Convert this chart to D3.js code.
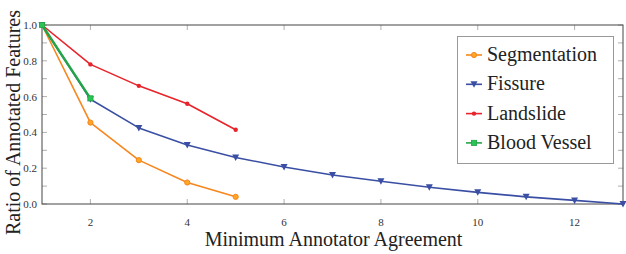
<!DOCTYPE html>
<html>
<head>
<meta charset="utf-8">
<script src="https://cdn.jsdelivr.net/npm/d3@7"></script>
</head>
<body style="margin:0">
<script>
// Ratio of annotated features vs. minimum annotator agreement
const segmentation = [1.0, 0.455, 0.245, 0.12, 0.04];
const fissure = [1.0, 0.585, 0.425, 0.33, 0.26, 0.207, 0.162, 0.127, 0.094, 0.065, 0.04, 0.02, 0.0];
const landslide = [1.0, 0.78, 0.66, 0.56, 0.415];
const bloodVessel = [1.0, 0.59];

const seriesNames = ['Segmentation', 'Fissure', 'Landslide', 'Blood Vessel'];
const seriesColors = ['#f7861e', '#3a4fa3', '#e8232a', '#23a447'];
const seriesMarkers = ['circle', 'triangle', 'dot', 'square'];
const xTicks = [2, 4, 6, 8, 10, 12];
const yTicks = [0, 0.2, 0.4, 0.6, 0.8, 1.0];
const yMinor = d3.range(0, 11).map(i => i / 10);

const W = 626, H = 254;
const margin = { top: 25, right: 3, bottom: 50, left: 42 };
const FONT = '"Liberation Serif"';

const svg = d3.select('body').append('svg')
  .attr('width', W).attr('height', H);

const x = d3.scaleLinear().domain([1, 13]).range([margin.left, W - margin.right]);
const y = d3.scaleLinear().domain([0, 1]).range([H - margin.bottom, margin.top]);

// tick marks (inside, grey)
const ticks = svg.append('g').attr('stroke', '#b0b0b0').attr('stroke-width', 1);
xTicks.forEach(t => {
  ticks.append('line').attr('x1', x(t)).attr('x2', x(t)).attr('y1', y(0)).attr('y2', y(0) - 5);
  ticks.append('line').attr('x1', x(t)).attr('x2', x(t)).attr('y1', y(1)).attr('y2', y(1) + 5);
});
yMinor.forEach(t => {
  ticks.append('line').attr('x1', x(1)).attr('x2', x(1) + 5).attr('y1', y(t)).attr('y2', y(t));
  ticks.append('line').attr('x1', x(13)).attr('x2', x(13) - 5).attr('y1', y(t)).attr('y2', y(t));
});

// frame
svg.append('rect')
  .attr('x', x(1)).attr('y', y(1))
  .attr('width', x(13) - x(1)).attr('height', y(0) - y(1))
  .attr('fill', 'none').attr('stroke', '#444').attr('stroke-width', 1);

// tick labels
svg.append('g').selectAll('text').data(xTicks).join('text')
  .attr('x', d => x(d)).attr('y', y(0) + 22)
  .attr('text-anchor', 'middle')
  .style('font-family', FONT).style('font-size', '11px').attr('fill', '#333')
  .text(d => d);

svg.append('g').selectAll('text').data(yTicks).join('text')
  .attr('x', x(1) - 5).attr('y', d => y(d) + 4)
  .attr('text-anchor', 'end')
  .style('font-family', FONT).style('font-size', '11px').attr('fill', '#333')
  .text(d => d3.format('.1f')(d));

// axis titles
svg.append('text')
  .attr('x', (x(1) + x(13)) / 2 + 1).attr('y', 246)
  .attr('text-anchor', 'middle')
  .style('font-family', FONT).style('font-size', '20px').attr('fill', '#222')
  .text('Minimum Annotator Agreement');

svg.append('text')
  .attr('transform', `translate(20,${(y(0) + y(1)) / 2 + 8}) rotate(-90)`)
  .attr('text-anchor', 'middle')
  .style('font-family', FONT).style('font-size', '20px').attr('fill', '#222')
  .text('Ratio of Annotated Features');

function drawMarker(g, type, color, cx, cy) {
  if (type === 'circle') {
    g.append('circle').attr('cx', cx).attr('cy', cy).attr('r', 2.6)
      .attr('fill', d3.color(color).brighter(0.6)).attr('stroke', color).attr('stroke-width', 1);
  } else if (type === 'dot') {
    g.append('circle').attr('cx', cx).attr('cy', cy).attr('r', 2.2).attr('fill', color);
  } else if (type === 'square') {
    g.append('rect').attr('x', cx - 2.6).attr('y', cy - 2.6).attr('width', 5.2).attr('height', 5.2)
      .attr('fill', d3.color(color).brighter(0.5)).attr('stroke', color).attr('stroke-width', 0.8);
  } else {
    g.append('path')
      .attr('d', `M${cx - 3.5},${cy - 3} L${cx + 3.5},${cy - 3} L${cx},${cy + 3.5} Z`)
      .attr('fill', color);
  }
}

const allSeries = [segmentation, fissure, landslide, bloodVessel];
const line = d3.line().x((d, i) => x(i + 1)).y(d => y(d));
const plot = svg.append('g');

allSeries.forEach((vals, k) => {
  const color = seriesColors[k];
  plot.append('path').datum(vals)
    .attr('d', line)
    .attr('fill', 'none').attr('stroke', color)
    .attr('stroke-width', k === 3 ? 2.4 : 1.6)
    .attr('stroke-linejoin', 'round');
  const mg = plot.append('g');
  vals.forEach((v, i) => drawMarker(mg, seriesMarkers[k], color, x(i + 1), y(v)));
});

// legend
const lg = svg.append('g');
lg.append('rect')
  .attr('x', 457.5).attr('y', 36.5).attr('width', 156).attr('height', 127)
  .attr('fill', '#fff').attr('stroke', '#999').attr('stroke-width', 1);
seriesNames.forEach((name, k) => {
  const cy = 55 + k * 29.3;
  lg.append('line').attr('x1', 466).attr('x2', 482).attr('y1', cy).attr('y2', cy)
    .attr('stroke', seriesColors[k]).attr('stroke-width', 1.6);
  drawMarker(lg, seriesMarkers[k], seriesColors[k], 474, cy);
  lg.append('text')
    .attr('x', 487).attr('y', cy + 6)
    .style('font-family', FONT).style('font-size', '20px').attr('fill', '#222')
    .text(name);
});
</script>
</body>
</html>
